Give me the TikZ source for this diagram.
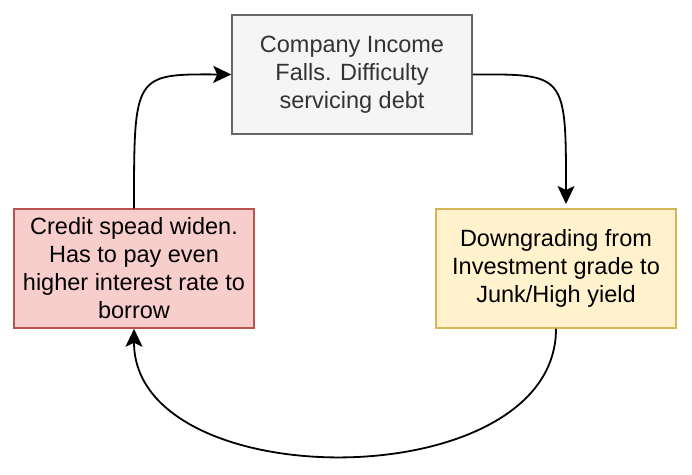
\documentclass[tikz,border=0pt]{standalone}
\usepackage{fontspec}
\setmainfont{Liberation Sans}
\usetikzlibrary{arrows.meta}
\definecolor{grayfill}{HTML}{F5F5F5}
\definecolor{graydraw}{HTML}{666666}
\definecolor{graytext}{HTML}{333333}
\definecolor{redfill}{HTML}{F8CECC}
\definecolor{reddraw}{HTML}{B85450}
\definecolor{yellowfill}{HTML}{FFF2CC}
\definecolor{yellowdraw}{HTML}{D6B656}
\tikzset{
  box/.style={draw, line width=1.5pt, minimum width=240pt, minimum height=119pt,
    align=center, inner sep=0pt, font=\fontsize{23.5}{28}\selectfont},
  loop arrow/.style={line width=1.8pt, arrows={-Stealth[length=18pt, width=17pt, inset=4pt]}}
}
\begin{document}
\begin{tikzpicture}[x=1pt,y=-1pt]
            \useasboundingbox (0,0) rectangle (692,474);
            \node[box, fill=grayfill, draw=graydraw, text=graytext] (income) at (352,74.5)
              {Company Income\\Falls. Difficulty\\servicing debt};
            \node[box, fill=redfill, draw=reddraw] (spread) at (134,268.5)
              {Credit spead widen.\\Has to pay even\\higher interest rate to\\borrow};
            \node[box, fill=yellowfill, draw=yellowdraw] (downgrade) at (556,268.5)
              {Downgrading from\\Investment grade to\\Junk/High yield};
            \coordinate (gap) at (566,204);
            \draw[loop arrow] (spread.north) .. controls (134,74) .. (income.west);
            \draw[loop arrow] (income.east) .. controls (566,74) .. (gap);
            \draw[loop arrow] (downgrade.south) .. controls (556,498) and (134,498) .. (spread.south);
        \end{tikzpicture}
\end{document}
